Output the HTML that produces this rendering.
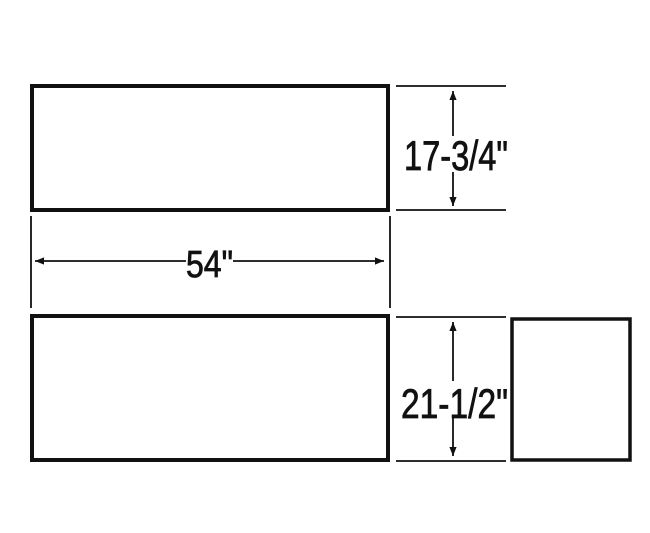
<!DOCTYPE html>
<html><head><style>body{margin:0;background:#fff}svg{display:block}</style></head><body>
<svg width="650" height="533" viewBox="0 0 650 533" xmlns="http://www.w3.org/2000/svg">
<defs>
<marker id="a" viewBox="0 0 10 10" refX="10" refY="5" markerWidth="10" markerHeight="9" orient="auto-start-reverse" markerUnits="userSpaceOnUse"><path d="M0,1 L10,5 L0,9 Z" fill="#111"/></marker>
</defs>
<g fill="none" stroke="#111">
<rect x="32" y="86" width="356" height="124" stroke-width="4"/>
<rect x="32" y="316" width="356" height="144" stroke-width="4"/>
<rect x="512" y="319" width="118" height="141" stroke-width="3.5"/>
<g stroke-width="1.8">
<line x1="396" y1="86" x2="506" y2="86"/>
<line x1="396" y1="210" x2="506" y2="210"/>
<line x1="396" y1="317" x2="506" y2="317"/>
<line x1="396" y1="461" x2="506" y2="461"/>
<line x1="31" y1="216" x2="31" y2="308"/>
<line x1="390" y1="216" x2="390" y2="308"/>
<line x1="453" y1="91" x2="453" y2="136" marker-start="url(#a)"/>
<line x1="453" y1="172" x2="453" y2="206" marker-end="url(#a)"/>
<line x1="453" y1="322" x2="453" y2="381" marker-start="url(#a)"/>
<line x1="453" y1="417" x2="453" y2="456" marker-end="url(#a)"/>
<line x1="35" y1="261" x2="186" y2="261" marker-start="url(#a)"/>
<line x1="233" y1="261" x2="384" y2="261" marker-end="url(#a)"/>
</g>
</g>
<g font-family="Liberation Sans, sans-serif" font-size="42" fill="#111" stroke="#111" stroke-width="0.8">
<text x="404" y="170" textLength="104" lengthAdjust="spacingAndGlyphs">17-3/4"</text>
<text x="401" y="418" textLength="107" lengthAdjust="spacingAndGlyphs">21-1/2"</text>
<text x="186" y="277" textLength="47" lengthAdjust="spacingAndGlyphs" font-size="38">54"</text>
</g>
</svg>
</body></html>
